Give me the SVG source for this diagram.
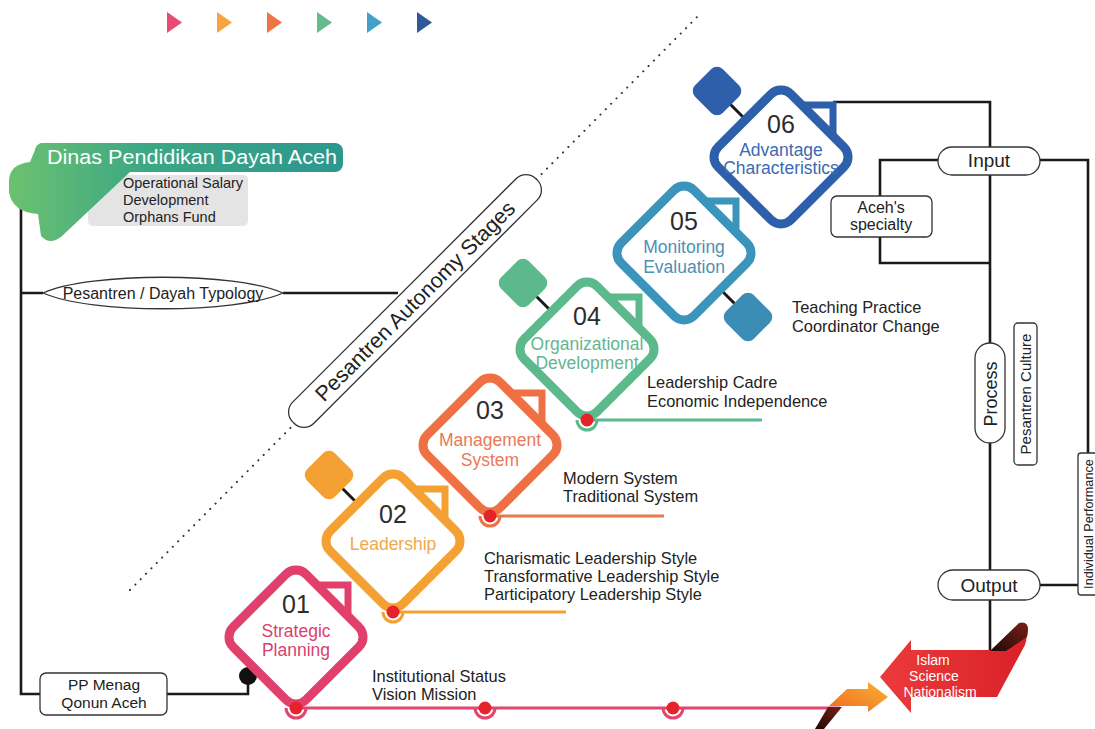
<svg xmlns="http://www.w3.org/2000/svg" width="1095" height="729" viewBox="0 0 1095 729">
<defs>
<style>
.t{font-family:"Liberation Sans",Arial,sans-serif;fill:#222}
.ln{stroke:#1a1a1a;stroke-width:2.6;fill:none}
.box{fill:#fff;stroke:#333;stroke-width:1.3}
.dia{fill:#fff;stroke-width:9}
.tab{fill:#fff;stroke-width:7}
.num{font-family:"Liberation Sans",Arial,sans-serif;font-size:25px;text-anchor:middle;fill:#2d2d2d}
.lbl{font-family:"Liberation Sans",Arial,sans-serif;font-size:17.5px;text-anchor:middle}
.side{font-size:16.4px}
.dot{fill:#E5232A}
.ring{fill:none;stroke-width:3}
.stem{stroke:#1a1a1a;stroke-width:3}
</style>
<linearGradient id="gGreen" gradientUnits="userSpaceOnUse" x1="8" y1="0" x2="343" y2="0">
<stop offset="0" stop-color="#6CC16F"/><stop offset="0.4" stop-color="#3DA884"/><stop offset="1" stop-color="#2C978F"/>
</linearGradient>
<linearGradient id="gRed" x1="0" y1="0" x2="1" y2="0">
<stop offset="0" stop-color="#EC3A3C"/><stop offset="1" stop-color="#D92228"/>
</linearGradient>
<linearGradient id="gOrange" x1="0" y1="1" x2="1" y2="0">
<stop offset="0" stop-color="#F06A22"/><stop offset="1" stop-color="#F8B233"/>
</linearGradient>
<linearGradient id="gDark" x1="0" y1="1" x2="1" y2="0">
<stop offset="0" stop-color="#1E0A06"/><stop offset="1" stop-color="#7A2015"/>
</linearGradient>
</defs>
<rect width="1095" height="729" fill="#fff"/>

<g id="top-triangles">
<polygon points="167,12 182,22.5 167,33" fill="#E84A72"/>
<polygon points="217,12 232,22.5 217,33" fill="#F7A540"/>
<polygon points="267,12 282,22.5 267,33" fill="#EE7443"/>
<polygon points="317,12 332,22.5 317,33" fill="#66BB8E"/>
<polygon points="367,12 382,22.5 367,33" fill="#45A0C8"/>
<polygon points="417,12 432,22.5 417,33" fill="#2E5A9C"/>
</g>

<line x1="130" y1="590" x2="700" y2="14" stroke="#333" stroke-width="2" stroke-dasharray="0.1 7.5" stroke-linecap="round"/>

<g id="connectors">
<path class="ln" d="M21 205 V694 H40"/>
<path class="ln" d="M167 694 H248 V676"/>
<path class="ln" d="M21 293 H43 M283 293 H398"/>
<path class="ln" d="M833 102 H990 V650"/>
<path class="ln" d="M938 160 H880 V263 H990"/>
<path class="ln" d="M1040 160 H1088 V453"/>
<path class="ln" d="M1040 585 H1078"/>
<path d="M296 708 H840" stroke="#E2456E" stroke-width="3" fill="none"/>
<path d="M393 612 H566" stroke="#F5A033" stroke-width="3" fill="none"/>
<path d="M490 516 H664" stroke="#E8784E" stroke-width="3" fill="none"/>
<path d="M587 420 H762" stroke="#5BB98B" stroke-width="3" fill="none"/>
<path class="ring" stroke="#E2456E" d="M475 708 A10 10 0 0 0 495 708 M663 708 A10 10 0 0 0 683 708"/>
<circle class="dot" cx="485" cy="708" r="6.5"/>
<circle class="dot" cx="673" cy="708" r="6.5"/>
<circle cx="248" cy="676" r="9" fill="#111"/>
</g>

<g id="dinas">
<rect x="88" y="175" width="160" height="51" rx="5" fill="#E4E4E4"/>
<path d="M43 143 L130 143 L130 172 L62 236 Q50 246 41 236 L38 214 Q12 212 9 192 L9 180 Q10 164 30 162 L35 150 Q37 143 43 143 Z" fill="url(#gGreen)"/>
<rect x="35" y="143" width="308" height="29" rx="8" fill="url(#gGreen)"/>
<text class="t" x="47" y="164" font-size="20" style="fill:#fff" textLength="290" lengthAdjust="spacingAndGlyphs">Dinas Pendidikan Dayah Aceh</text>
<text class="t" x="123" y="188" font-size="14.5">Operational Salary</text>
<text class="t" x="123" y="205" font-size="14.5">Development</text>
<text class="t" x="123" y="222" font-size="14.5">Orphans Fund</text>
</g>

<g id="typology">
<path class="box" d="M43 293 C90 272 236 272 283 293 C236 314 90 314 43 293 Z"/>
<text class="t" x="163" y="299" font-size="16" text-anchor="middle">Pesantren / Dayah Typology</text>
</g>

<g id="pp-menag">
<rect class="box" x="40" y="673" width="127" height="42" rx="6"/>
<text class="t" x="104" y="690" font-size="15.5" text-anchor="middle">PP Menag</text>
<text class="t" x="104" y="708" font-size="15.5" text-anchor="middle">Qonun Aceh</text>
</g>

<g id="autonomy-stages" transform="translate(415,301) rotate(-45)">
<rect class="box" x="-172" y="-15" width="344" height="30" rx="14"/>
<text class="t" x="0" y="7.5" font-size="21.5" text-anchor="middle">Pesantren Autonomy Stages</text>
</g>

<g id="node-01" transform="translate(296,637)">
<polygon class="tab" stroke="#E2406C" points="20,-52 52,-52 52,-20"/>
<rect class="dia" stroke="#E2406C" x="-51.5" y="-51.5" width="103" height="103" rx="14" transform="rotate(45)"/>
<text class="num" y="-24">01</text>
<text class="lbl" y="0" fill="#D8426E">Strategic</text>
<text class="lbl" y="19" fill="#D8426E">Planning</text>
<path class="ring" stroke="#E2456E" d="M-10 71 A10 10 0 0 0 10 71"/>
<circle class="dot" cx="0" cy="71" r="6.5"/>
</g>

<g id="node-02" transform="translate(393,541)">
<line class="stem" x1="-52" y1="-54" x2="-36" y2="-38"/>
<rect x="-19.5" y="-19.5" width="39" height="39" rx="8" fill="#F5A033" transform="translate(-64,-66) rotate(45)"/>
<polygon class="tab" stroke="#F5A033" points="20,-52 52,-52 52,-20"/>
<rect class="dia" stroke="#F5A033" x="-51.5" y="-51.5" width="103" height="103" rx="14" transform="rotate(45)"/>
<text class="num" y="-18">02</text>
<text class="lbl" y="9" fill="#EFA94A">Leadership</text>
<path class="ring" stroke="#F5A033" d="M-10 71 A10 10 0 0 0 10 71"/>
<circle class="dot" cx="0" cy="71" r="6.5"/>
</g>

<g id="node-03" transform="translate(490,445)">
<polygon class="tab" stroke="#EE7043" points="20,-52 52,-52 52,-20"/>
<rect class="dia" stroke="#EE7043" x="-51.5" y="-51.5" width="103" height="103" rx="14" transform="rotate(45)"/>
<text class="num" y="-26">03</text>
<text class="lbl" y="1" fill="#E97A57">Management</text>
<text class="lbl" y="21" fill="#E97A57">System</text>
<path class="ring" stroke="#EE7043" d="M-10 71 A10 10 0 0 0 10 71"/>
<circle class="dot" cx="0" cy="71" r="6.5"/>
</g>

<g id="node-04" transform="translate(587,349)">
<line class="stem" x1="-52" y1="-54" x2="-36" y2="-38"/>
<rect x="-19.5" y="-19.5" width="39" height="39" rx="8" fill="#5BB98B" transform="translate(-64,-66) rotate(45)"/>
<polygon class="tab" stroke="#5BB98B" points="20,-52 52,-52 52,-20"/>
<rect class="dia" stroke="#5BB98B" x="-51.5" y="-51.5" width="103" height="103" rx="14" transform="rotate(45)"/>
<text class="num" y="-24">04</text>
<text class="lbl" y="1" fill="#64B690">Organizational</text>
<text class="lbl" y="20" fill="#64B690">Development</text>
<path class="ring" stroke="#5BB98B" d="M-10 71 A10 10 0 0 0 10 71"/>
<circle class="dot" cx="0" cy="71" r="6.5"/>
</g>

<g id="node-05" transform="translate(684,253)">
<line class="stem" x1="36" y1="36" x2="52" y2="52"/>
<rect x="-19.5" y="-19.5" width="39" height="39" rx="8" fill="#3B8DB5" transform="translate(64,64) rotate(45)"/>
<polygon class="tab" stroke="#3B94BC" points="20,-52 52,-52 52,-20"/>
<rect class="dia" stroke="#3B94BC" x="-51.5" y="-51.5" width="103" height="103" rx="14" transform="rotate(45)"/>
<text class="num" y="-23">05</text>
<text class="lbl" y="0" fill="#4C90B6">Monitoring</text>
<text class="lbl" y="20" fill="#4C90B6">Evaluation</text>
</g>

<g id="node-06" transform="translate(781,157)">
<line class="stem" x1="-52" y1="-54" x2="-36" y2="-38"/>
<rect x="-19.5" y="-19.5" width="39" height="39" rx="8" fill="#2E5FAA" transform="translate(-64,-66) rotate(45)"/>
<polygon class="tab" stroke="#2E5FAA" points="20,-52 52,-52 52,-20"/>
<rect class="dia" stroke="#2E5FAA" x="-51.5" y="-51.5" width="103" height="103" rx="14" transform="rotate(45)"/>
<text class="num" y="-24">06</text>
<text class="lbl" y="-1" fill="#3C6AB3">Advantage</text>
<text class="lbl" y="17" fill="#3C6AB3">Characteristics</text>
</g>

<g id="details">
<text class="t side" x="372" y="682">Institutional Status</text>
<text class="t side" x="372" y="700">Vision Mission</text>
<text class="t side" x="484" y="564">Charismatic Leadership Style</text>
<text class="t side" x="484" y="582">Transformative Leadership Style</text>
<text class="t side" x="484" y="600">Participatory Leadership Style</text>
<text class="t side" x="563" y="484">Modern System</text>
<text class="t side" x="563" y="502">Traditional System</text>
<text class="t side" x="647" y="388">Leadership Cadre</text>
<text class="t side" x="647" y="407">Economic Independence</text>
<text class="t side" x="792" y="313">Teaching Practice</text>
<text class="t side" x="792" y="332">Coordinator Change</text>
</g>

<g id="input">
<rect class="box" x="938" y="147" width="102" height="28" rx="14"/>
<text class="t" x="989" y="167" font-size="19" text-anchor="middle">Input</text>
</g>
<g id="aceh-specialty">
<rect class="box" x="831" y="196" width="101" height="41" rx="6"/>
<text class="t" x="881" y="213" font-size="16" text-anchor="middle">Aceh's</text>
<text class="t" x="881" y="230" font-size="16" text-anchor="middle">specialty</text>
</g>
<g id="process">
<rect class="box" x="975" y="343" width="30" height="100" rx="15"/>
<text class="t" font-size="18" text-anchor="middle" transform="translate(996.5,394) rotate(-90)">Process</text>
</g>
<g id="pesantren-culture">
<rect class="box" x="1014" y="323" width="23" height="142" rx="4"/>
<text class="t" font-size="15" text-anchor="middle" transform="translate(1030.5,394) rotate(-90)">Pesantren Culture</text>
</g>
<g id="individual-performance">
<rect class="box" x="1078" y="453" width="22" height="142" rx="3"/>
<text class="t" font-size="12.7" text-anchor="middle" transform="translate(1093,524) rotate(-90)">Individual Performance</text>
</g>
<g id="output">
<rect class="box" x="938" y="570" width="102" height="30" rx="15"/>
<text class="t" x="989" y="592" font-size="19" text-anchor="middle">Output</text>
</g>

<g id="orange-arrow">
<path d="M828 707 L842 707 L824 729 L815 729 Z" fill="url(#gDark)"/>
<path d="M847 689 L868 689 L868 682 L888 697 L868 712 L868 706 L829 706 Z" fill="url(#gOrange)"/>
</g>
<g id="islam-arrow">
<path d="M880 677 L911 640 L911 650 L992 650 L1020 624 Q1030 630 1025 645 L997 697 L911 697 L911 713 Z" fill="url(#gRed)"/>
<path d="M990 651 L1019 623 Q1031 620 1027 637 L1006 651 Z" fill="url(#gDark)"/>
<text class="t" x="933" y="665" font-size="14" text-anchor="middle" style="fill:#fff">Islam</text>
<text class="t" x="934" y="681" font-size="14" text-anchor="middle" style="fill:#fff">Science</text>
<text class="t" x="940" y="697" font-size="14" text-anchor="middle" style="fill:#fff">Nationalism</text>
</g>
</svg>
